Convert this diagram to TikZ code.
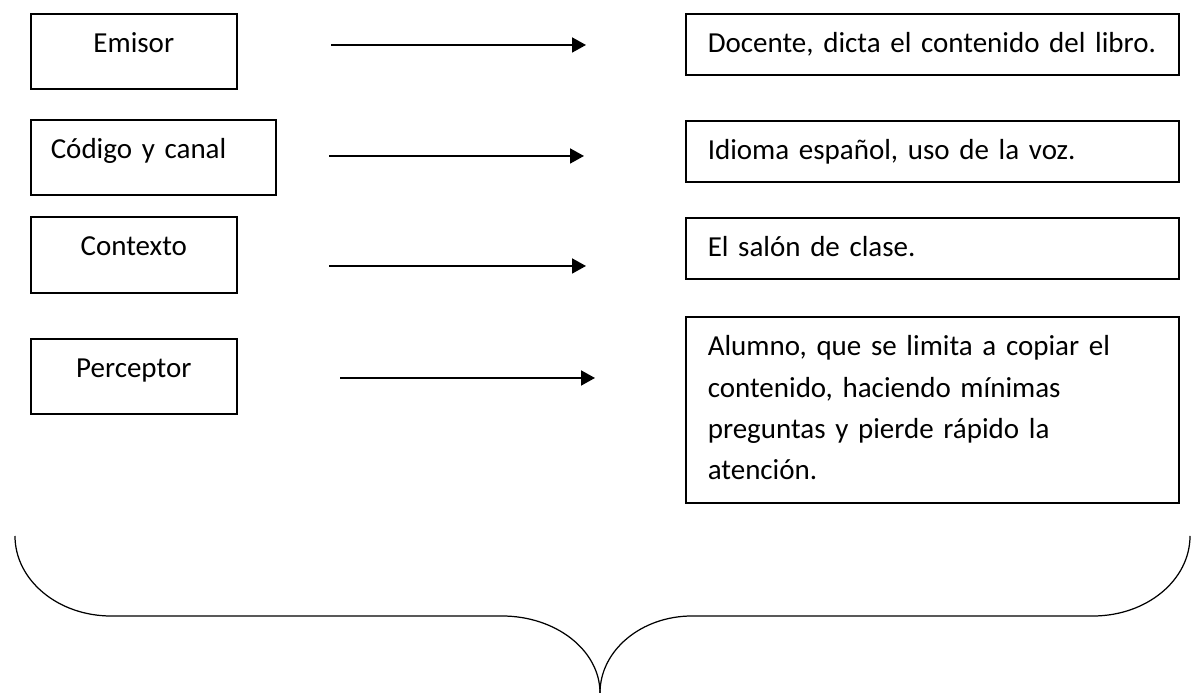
\documentclass[tikz,border=0pt]{standalone}
\usepackage{fontspec}
\setmainfont{Carlito}
\usetikzlibrary{arrows.meta}

\begin{document}
\begin{tikzpicture}[
        font=\fontsize{16.5}{23.5}\selectfont,
        leftbox/.style={draw, line width=0.9pt, inner sep=0pt, anchor=north west,
            minimum width=4.12cm, text height=0.78cm, text depth=0.72cm},
        rightbox/.style={draw, line width=0.9pt, inner ysep=0pt, inner xsep=0.44cm,
            anchor=north west, text width=8.98cm, align=left,
            text height=0.78cm, text depth=0.44cm},
        flecha/.style={line width=1.1pt, -{Triangle[length=0.28cm, width=0.30cm]}}
    ]
        \useasboundingbox (0,0) rectangle (23.92,13.86);

        % Define points
        \coordinate (L1) at (0.60,13.60);
        \coordinate (L2) at (0.60,11.48);
        \coordinate (L3) at (0.60,9.54);
        \coordinate (L4) at (0.60,7.10);
        \coordinate (R1) at (13.70,13.60);
        \coordinate (R2) at (13.70,11.46);
        \coordinate (R3) at (13.70,9.52);
        \coordinate (R4) at (13.70,7.54);

        % Draw the left boxes
        \node[leftbox] (emisor) at (L1) {Emisor};
        \node[leftbox, minimum width=4.90cm, inner xsep=0.40cm, text width=4.10cm, align=left] (codigo) at (L2) {Código y canal};
        \node[leftbox, text depth=0.74cm] (contexto) at (L3) {Contexto};
        \node[leftbox] (perceptor) at (L4) {Perceptor};

        % Draw the right boxes
        \node[rightbox] (docente) at (R1) {Docente, dicta el contenido del libro.};
        \node[rightbox] (idioma) at (R2) {Idioma español, uso de la voz.};
        \node[rightbox] (salon) at (R3) {El salón de clase.};
        \node[rightbox, text depth=2.94cm] (alumno) at (R4) {Alumno, que se limita a copiar el\\
            contenido, haciendo mínimas\\
            preguntas y pierde rápido la\\
            atención.};

        % Define arrow ends
        \coordinate (A1) at (6.62,12.96);
        \coordinate (B1) at (11.72,12.96);
        \coordinate (A2) at (6.58,10.74);
        \coordinate (B2) at (11.68,10.74);
        \coordinate (A3) at (6.58,8.54);
        \coordinate (B3) at (11.72,8.54);
        \coordinate (A4) at (6.80,6.30);
        \coordinate (B4) at (11.90,6.30);

        % Draw arrows
        \draw[flecha] (A1) -- (B1);
        \draw[flecha] (A2) -- (B2);
        \draw[flecha] (A3) -- (B3);
        \draw[flecha] (A4) -- (B4);

        % Draw the brace
        \coordinate (P) at (0.30,3.14);
        \coordinate (Q) at (12.00,0);
        \draw[line width=0.7pt] (P) arc[start angle=180, end angle=270, x radius=1.92, y radius=1.60]
            -- (10.04,1.54) arc[start angle=90, end angle=0, x radius=1.96, y radius=1.54];
        \draw[line width=0.7pt] (Q) arc[start angle=180, end angle=90, x radius=1.84, y radius=1.54]
            -- (21.86,1.54) arc[start angle=270, end angle=360, x radius=1.94, y radius=1.60];

    \end{tikzpicture}
\end{document}
